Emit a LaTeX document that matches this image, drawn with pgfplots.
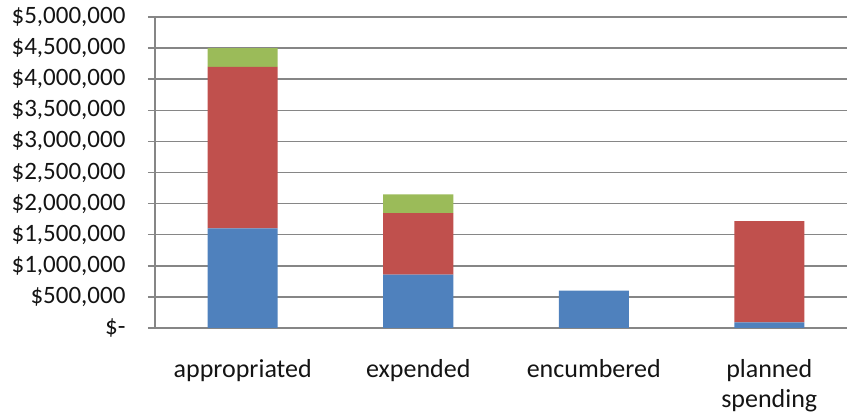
\documentclass[border=0pt]{standalone}
\usepackage{pgfplots}
\pgfplotsset{compat=1.18}
\usepackage{fontspec}
\setmainfont{Carlito}
\definecolor{xblue}{HTML}{4F81BD}
\definecolor{xred}{HTML}{C0504D}
\definecolor{xgreen}{HTML}{9BBB59}
\definecolor{xgray}{HTML}{868686}
\begin{document}
\begin{tikzpicture}[x=1pt,y=1pt]
\path[use as bounding box] (-155,-89) rectangle (692,328);
\begin{axis}[
  at={(0,0)}, anchor=south west,
  scale only axis, width=692pt, height=311pt,
  xmin=-0.5, xmax=3.443, ymin=0, ymax=5000000,
  ybar stacked, bar width=70pt,
  axis x line*=bottom, axis y line*=left,
  axis line style={draw=xgray, line width=1.5pt},
  ymajorgrids, grid style={draw=xgray, line width=1.5pt},
  ytick={0,500000,...,5000000},
  yticklabels={\$-,{\$500,000},{\$1,000,000},{\$1,500,000},{\$2,000,000},{\$2,500,000},{\$3,000,000},{\$3,500,000},{\$4,000,000},{\$4,500,000},{\$5,000,000}},
  scaled y ticks=false,
  tick align=outside, major tick length=7pt,
  ytick style={draw=xgray, line width=1.5pt},
  xtick={0,1,2,3},
  xticklabels={appropriated,expended,encumbered,{planned\\spending}},
  xtick style={draw=none},
  extra x ticks={-0.5,0.5,1.5,2.5},
  extra x tick labels={},
  extra x tick style={grid=none, tick style={draw=xgray, line width=1.5pt}, major tick length=7pt},
  ticklabel style={text=black!92},
  yticklabel style={font=\fontsize{25}{26}\selectfont, xshift=-19pt},
  xticklabel style={font=\fontsize{26}{30}\selectfont, align=center, yshift=-21pt},
  clip=false,
]
\addplot[fill=xblue, draw=none] coordinates {(0,1600000) (1,860000) (2,600000) (3,90000)};
\addplot[fill=xred, draw=none] coordinates {(0,2600000) (1,985000) (2,0) (3,1630000)};
\addplot[fill=xgreen, draw=none] coordinates {(0,300000) (1,305000) (2,0) (3,0)};
\end{axis}
\end{tikzpicture}
\end{document}
